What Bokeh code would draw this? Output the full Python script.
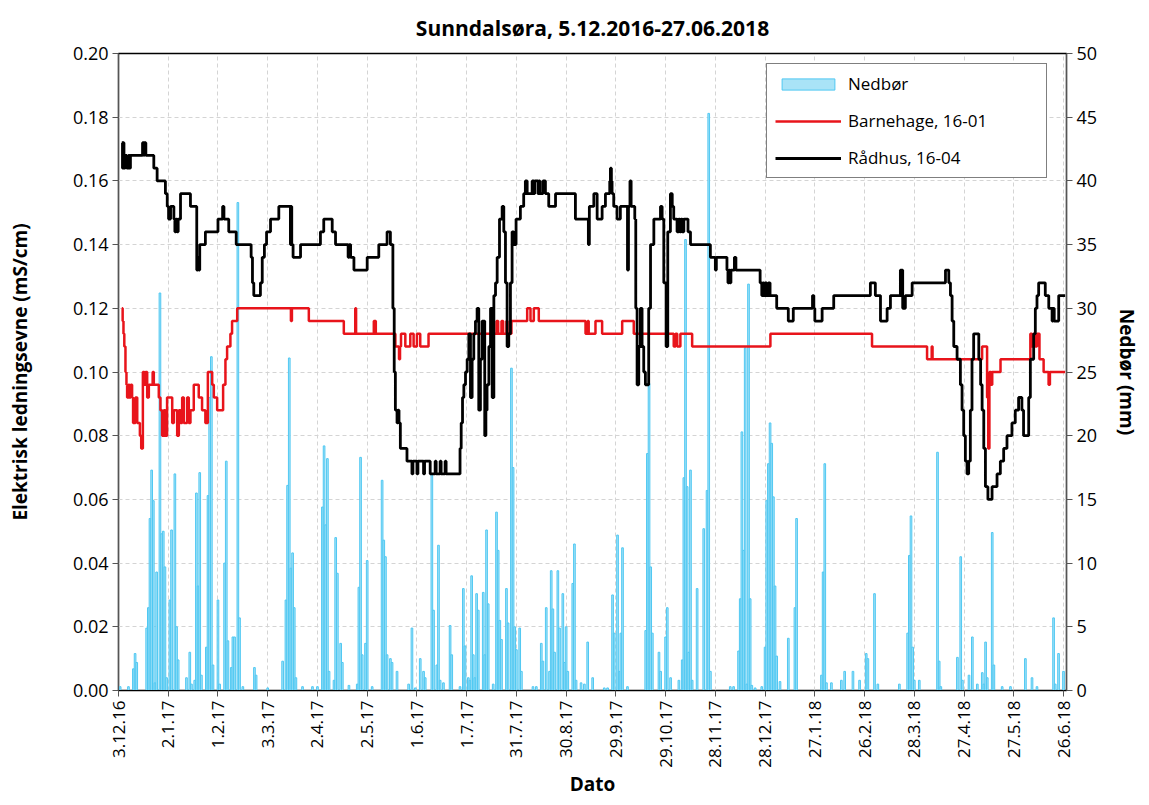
import math
from datetime import date
from bokeh.plotting import figure
from bokeh.models import (Range1d, LinearAxis, FixedTicker, Legend, LegendItem,
                          NumeralTickFormatter)
from bokeh.embed import file_html
from bokeh.resources import INLINE

# ---------------- data ----------------
START = date(2016, 12, 3)          # x is "days since 3.12.2016"

tick_labels = ["3.12.16", "2.1.17", "1.2.17", "3.3.17", "2.4.17", "2.5.17", "1.6.17",
               "1.7.17", "31.7.17", "30.8.17", "29.9.17", "29.10.17", "28.11.17",
               "28.12.17", "27.1.18", "26.2.18", "28.3.18", "27.4.18", "27.5.18", "26.6.18"]

# daily precipitation (mm)
rain_day = [1, 6, 9, 10, 11, 17, 18, 19, 20, 21, 22, 23, 25, 26, 27, 28, 29, 31, 32, 34, 35, 36,
            41, 43, 44, 46, 47, 48, 49, 50, 53, 54, 55, 56, 57, 60, 61, 64, 65, 66, 68, 69, 70,
            72, 73, 75, 82, 83, 90, 99, 101, 102, 103, 104, 105, 106, 107, 111, 117, 120, 123,
            124, 125, 126, 127, 130, 131, 132, 134, 135, 139, 144, 145, 146, 147, 149, 150, 153,
            159, 160, 161, 162, 164, 165, 168, 175, 177, 179, 182, 184, 185, 189, 190, 192, 193,
            194, 196, 200, 201, 206, 208, 209, 211, 212, 213, 214, 215, 216, 217, 220, 221, 222,
            223, 226, 228, 229, 230, 231, 234, 235, 237, 238, 239, 240, 242, 243, 250, 252, 255,
            256, 258, 260, 261, 262, 263, 265, 266, 268, 269, 270, 271, 274, 275, 276, 279, 281,
            283, 286, 293, 295, 298, 299, 301, 302, 303, 304, 307, 318, 319, 320, 321, 322, 326,
            327, 330, 331, 333, 338, 340, 341, 342, 343, 344, 345, 346, 349, 353, 355, 356, 357,
            369, 371, 374, 375, 376, 377, 378, 379, 380, 381, 382, 384, 388, 390, 391, 392, 393,
            394, 395, 396, 397, 399, 404, 408, 409, 424, 425, 426, 427, 430, 436, 438, 443, 447,
            451, 452, 456, 458, 471, 476, 477, 478, 479, 480, 483, 494, 495, 496, 506, 508, 509,
            513, 515, 518, 521, 522, 523, 524, 527, 528, 533, 538, 547, 551, 554, 564, 565, 567,
            570]
rain_mm = [0.3, 0.3, 1.7, 2.9, 2.2, 4.9, 6.5, 13.5, 17.3, 14.9, 0.6, 9.3, 31.2, 12.3, 12.5, 9.7,
           1.0, 7.1, 12.6, 17.0, 5.0, 2.4, 1.0, 3.0, 0.5, 0.8, 15.5, 8.2, 17.1, 1.2, 3.4, 15.3,
           23.0, 26.2, 2.0, 7.1, 0.5, 10.0, 18.0, 3.9, 1.8, 4.2, 4.2, 38.3, 5.7, 0.3, 1.8, 1.2,
           0.2, 2.3, 7.1, 16.1, 26.1, 9.6, 10.8, 6.5, 1.0, 0.3, 0.3, 0.3, 14.4, 19.2, 13.0, 18.2,
           1.5, 0.8, 12.0, 9.2, 3.7, 2.2, 0.4, 0.5, 8.1, 18.3, 2.8, 3.7, 10.2, 0.3, 16.5, 11.8,
           10.5, 2.8, 2.5, 2.2, 1.5, 0.5, 4.9, 0.2, 2.5, 1.5, 1.0, 17.0, 6.3, 2.0, 11.4, 0.8, 0.6,
           5.1, 2.8, 0.3, 8.0, 3.5, 1.0, 0.8, 9.0, 2.8, 1.0, 7.6, 6.3, 7.7, 2.8, 12.6, 6.8, 0.5,
           14.0, 11.0, 5.5, 4.0, 8.0, 5.3, 25.3, 17.5, 5.0, 3.2, 4.9, 1.5, 0.3, 0.3, 3.7, 2.3,
           6.5, 1.5, 9.4, 6.4, 3.0, 9.4, 4.9, 7.6, 2.2, 5.0, 1.5, 8.4, 11.5, 0.8, 0.6, 0.5, 3.8,
           1.0, 0.2, 0.2, 7.5, 4.5, 12.2, 1.5, 4.5, 11.2, 0.3, 4.7, 18.6, 24.1, 9.7, 4.5, 3.0,
           1.5, 4.2, 6.5, 1.0, 0.8, 2.4, 16.7, 35.4, 16.0, 3.0, 17.3, 0.8, 8.0, 12.7, 15.7, 45.3,
           1.5, 0.3, 0.3, 3.1, 7.2, 20.3, 11.0, 26.9, 0.5, 31.9, 7.2, 0.4, 0.2, 0.3, 3.4, 14.9,
           17.8, 21.0, 19.4, 15.2, 8.2, 2.7, 0.7, 4.1, 6.5, 13.5, 1.2, 9.3, 17.8, 0.6, 0.6, 0.8,
           1.5, 1.5, 0.8, 2.9, 2.5, 7.6, 0.5, 0.5, 4.5, 10.6, 13.7, 3.4, 0.8, 0.8, 18.7, 2.3, 0.3,
           2.6, 10.5, 0.8, 1.2, 4.2, 0.5, 1.4, 0.5, 3.8, 1.0, 12.4, 2.0, 0.3, 0.3, 2.5, 1.0, 0.3,
           5.7, 0.5, 2.9, 1.5]

# Barnehage, 16-01 (mS/cm), value holds from each day until the next
barn_day = [2, 2.5, 3, 3.5, 4.2, 4.8, 5.2, 6, 6.6, 7.4, 8.2, 8.8, 10.2, 11.3, 12.9, 13.7, 14.7,
            15.6, 16.3, 17.3, 18.3, 20.6, 21.3, 24.3, 25.3, 26.3, 27.3, 28.3, 29.3, 32.4, 33.4,
            35.4, 36.4, 37.4, 38.4, 39.4, 41.4, 42.4, 43.4, 45.4, 48.4, 50.4, 52.4, 53.9, 56.5,
            57.5, 59.5, 63.1, 64.5, 65.5, 67.5, 68.5, 71.6, 104.0, 104.6, 114.8, 135.9, 142.8,
            143.3, 154, 155.2, 167, 169.2, 169.8, 170.4, 173, 176, 178, 180, 182, 187, 228, 229,
            231, 232, 234, 234.6, 237, 246.5, 248.5, 250.5, 253.5, 281.7, 283, 283.6, 287.7,
            291.7, 303.8, 310.8, 334.9, 336, 337, 338.9, 346, 393.2, 454.5, 487.7, 490.5, 491,
            520.9, 523.9, 524.6, 525.3, 526.4, 527, 532, 550, 551, 552, 553, 554, 555.5, 558, 561,
            561.8, 571]
barn_val = [0.120, 0.116, 0.112, 0.108, 0.100, 0.096, 0.092, 0.096, 0.092, 0.096, 0.092, 0.084,
            0.092, 0.084, 0.080, 0.076, 0.100, 0.096, 0.100, 0.092, 0.096, 0.100, 0.096, 0.092,
            0.088, 0.080, 0.088, 0.080, 0.092, 0.084, 0.088, 0.080, 0.088, 0.084, 0.092, 0.084,
            0.092, 0.084, 0.088, 0.096, 0.092, 0.088, 0.084, 0.100, 0.096, 0.092, 0.088, 0.096,
            0.104, 0.108, 0.112, 0.116, 0.120, 0.116, 0.120, 0.116, 0.112, 0.120, 0.112, 0.116,
            0.112, 0.108, 0.104, 0.108, 0.112, 0.108, 0.112, 0.108, 0.112, 0.108, 0.112, 0.116,
            0.112, 0.116, 0.112, 0.116, 0.112, 0.116, 0.120, 0.116, 0.120, 0.116, 0.112, 0.116,
            0.112, 0.116, 0.112, 0.116, 0.112, 0.108, 0.112, 0.108, 0.112, 0.108, 0.112, 0.108,
            0.104, 0.108, 0.104, 0.108, 0.092, 0.076, 0.100, 0.096, 0.100, 0.104, 0.112, 0.108,
            0.112, 0.108, 0.112, 0.104, 0.100, 0.096, 0.100, 0.100]

# Rådhus, 16-04 (mS/cm)
rad_day = [2.0, 2.4, 2.8, 3.3, 4.0, 5.0, 6.0, 6.6, 7.2, 14.5, 15.2, 15.6, 16.5, 21.3, 23.3, 28.3,
           29.4, 30.2, 31.4, 33.4, 34.0, 34.6, 35.4, 36.0, 37.4, 43.4, 47.2, 47.8, 48.4, 49.0,
           52.4, 60.0, 62.8, 63.6, 66.5, 71.0, 80.0, 80.8, 81.6, 85.6, 86.7, 88.0, 89.3, 91.7,
           96.7, 103.7, 104.0, 104.5, 105.3, 109.8, 121.8, 123.8, 128.9, 130.9, 138.5, 139.2,
           140.0, 142.0, 150.0, 157.0, 162.0, 164.0, 165.5, 166.3, 167.0, 168.0, 168.6, 169.2,
           170.0, 174.0, 177.0, 177.6, 180.0, 180.6, 184.0, 184.6, 188.0, 191.0, 191.6, 194.0,
           194.6, 197.0, 197.6, 205.3, 206.0, 206.7, 207.5, 208.3, 209.3, 210.3, 211.3, 212.3,
           213.3, 214.3, 215.3, 216.3, 217.3, 218.3, 219.3, 220.9, 221.6, 222.3, 223.4, 224.4,
           225.4, 226.4, 227.4, 228.4, 229.8, 231.4, 232.4, 233.4, 234.4, 235.4, 236.4, 237.4,
           238.4, 239.8, 242.4, 244.4, 245.4, 246.5, 249.5, 250.5, 251.0, 253.0, 253.5, 254.2,
           256.0, 257.5, 259.5, 263.6, 275.6, 283.4, 284.0, 286.7, 288.7, 291.7, 293.7, 296.3,
           296.7, 297.3, 297.7, 298.7, 300.7, 302.7, 307.0, 307.6, 308.5, 309.2, 311.4, 312.0,
           312.8, 313.8, 314.8, 315.8, 316.8, 317.8, 318.8, 319.8, 320.9, 322.9, 326.9, 327.9,
           328.9, 330.3, 331.3, 332.9, 334.0, 334.9, 336.9, 337.9, 338.6, 339.3, 340.0, 341.0,
           343.5, 345.0, 357.0, 360.0, 360.6, 367.0, 367.6, 368.2, 368.8, 369.4, 371.5, 372.4,
           387.0, 388.0, 388.6, 389.4, 390.0, 391.0, 392.0, 393.0, 397.0, 404.0, 407.0, 418.6,
           419.4, 420.0, 424.4, 431.4, 453.5, 456.5, 459.6, 463.6, 465.6, 471.6, 473.0, 474.6,
           478.7, 498.8, 500.8, 501.8, 502.8, 503.8, 505.8, 507.8, 508.8, 509.8, 510.8, 511.8,
           512.8, 513.8, 514.8, 515.8, 518.9, 520.0, 520.9, 521.9, 522.9, 524.4, 526.9, 529.9,
           531.9, 533.9, 535.9, 538.9, 540.9, 542.9, 544.9, 545.9, 548.0, 549.0, 550.0, 552.0,
           553.0, 554.0, 555.0, 559.0, 561.1, 563.1, 563.8, 564.4, 566.1, 567.1, 571.0]
rad_val = [0.172, 0.164, 0.172, 0.164, 0.168, 0.164, 0.168, 0.164, 0.168, 0.172, 0.168, 0.172,
           0.168, 0.164, 0.160, 0.156, 0.152, 0.148, 0.152, 0.148, 0.144, 0.148, 0.144, 0.148,
           0.156, 0.152, 0.132, 0.136, 0.132, 0.140, 0.144, 0.148, 0.152, 0.148, 0.144, 0.140,
           0.136, 0.128, 0.124, 0.128, 0.136, 0.140, 0.144, 0.148, 0.152, 0.140, 0.152, 0.140,
           0.136, 0.140, 0.144, 0.148, 0.144, 0.140, 0.136, 0.140, 0.136, 0.132, 0.136, 0.140,
           0.144, 0.140, 0.120, 0.100, 0.088, 0.084, 0.088, 0.084, 0.076, 0.072, 0.068, 0.072,
           0.068, 0.072, 0.068, 0.072, 0.068, 0.072, 0.068, 0.072, 0.068, 0.072, 0.068, 0.068,
           0.076, 0.084, 0.092, 0.096, 0.100, 0.104, 0.112, 0.092, 0.104, 0.112, 0.116, 0.120,
           0.088, 0.104, 0.116, 0.080, 0.088, 0.096, 0.108, 0.120, 0.092, 0.124, 0.128, 0.136,
           0.148, 0.152, 0.144, 0.128, 0.108, 0.112, 0.128, 0.144, 0.140, 0.148, 0.152, 0.156,
           0.160, 0.156, 0.160, 0.156, 0.160, 0.156, 0.160, 0.156, 0.160, 0.156, 0.152, 0.156,
           0.148, 0.140, 0.152, 0.156, 0.148, 0.152, 0.156, 0.160, 0.164, 0.160, 0.156, 0.152,
           0.148, 0.152, 0.132, 0.152, 0.160, 0.152, 0.148, 0.120, 0.096, 0.108, 0.120, 0.108,
           0.100, 0.096, 0.096, 0.120, 0.140, 0.148, 0.152, 0.148, 0.128, 0.108, 0.144, 0.156,
           0.152, 0.148, 0.144, 0.148, 0.144, 0.148, 0.144, 0.148, 0.144, 0.140, 0.136, 0.132,
           0.136, 0.132, 0.128, 0.132, 0.128, 0.132, 0.136, 0.132, 0.128, 0.124, 0.128, 0.124,
           0.128, 0.124, 0.128, 0.124, 0.120, 0.116, 0.120, 0.124, 0.120, 0.116, 0.120, 0.124,
           0.128, 0.124, 0.116, 0.120, 0.124, 0.132, 0.120, 0.124, 0.128, 0.132, 0.128, 0.124,
           0.116, 0.108, 0.104, 0.096, 0.088, 0.080, 0.072, 0.068, 0.072, 0.088, 0.104, 0.112,
           0.104, 0.096, 0.088, 0.076, 0.064, 0.060, 0.064, 0.068, 0.072, 0.076, 0.080, 0.084,
           0.088, 0.092, 0.088, 0.080, 0.080, 0.092, 0.104, 0.112, 0.120, 0.124, 0.128, 0.124,
           0.120, 0.116, 0.120, 0.116, 0.116, 0.124, 0.124]


def to_day(s):
    d, m, y = s.split(".")
    return (date(2000 + int(y), int(m), int(d)) - START).days


tick_days = [to_day(s) for s in tick_labels]
ec_ticks = [round(0.02 * i, 2) for i in range(11)]
rain_ticks = [5 * i for i in range(11)]

FONT = "Open Sans"

# ---------------- figure ----------------
p = figure(width=1149, height=805, output_backend="svg", toolbar_location=None,
           x_range=Range1d(0, 571.8), y_range=Range1d(0, 0.20),
           min_border_left=118, min_border_right=83, min_border_top=53, min_border_bottom=115,
           background_fill_color="white", border_fill_color="white")
p.extra_y_ranges = {"rain": Range1d(0, 50)}

p.title.text = "Sunndalsøra, 5.12.2016-27.06.2018"
p.title.align = "center"
p.title.text_font = FONT
p.title.text_font_size = "21px"
p.title.text_font_style = "bold"
p.title.text_color = "black"
p.title.standoff = 23

p.outline_line_color = "black"
p.outline_line_width = 1.5

# grids
p.xgrid.ticker = FixedTicker(ticks=tick_days)
p.ygrid.ticker = FixedTicker(ticks=ec_ticks)
for g in (p.xgrid, p.ygrid):
    g.grid_line_color = "#D4D4D4"
    g.grid_line_dash = "4 3"
    g.grid_line_width = 1

# x axis
xa = p.xaxis[0]
xa.ticker = FixedTicker(ticks=tick_days)
xa.major_label_overrides = {float(d): s for d, s in zip(tick_days, tick_labels)}
xa.major_label_orientation = math.pi / 2
xa.axis_label = "Dato"

# left axis
ya = p.yaxis[0]
ya.ticker = FixedTicker(ticks=ec_ticks)
ya.formatter = NumeralTickFormatter(format="0.00")
ya.axis_label = "Elektrisk ledningsevne (mS/cm)"
ya.axis_label_standoff = 37

# right axis
ra = LinearAxis(y_range_name="rain", axis_label="Nedbør (mm)",
                ticker=FixedTicker(ticks=rain_ticks))
ra.axis_label_standoff = 14
p.add_layout(ra, "right")

for ax in (xa, ya, ra):
    ax.major_label_text_font = FONT
    ax.major_label_text_font_size = "18px"
    ax.major_label_text_color = "black"
    ax.axis_label_text_font = FONT
    ax.axis_label_text_font_size = "19px"
    ax.axis_label_text_font_style = "bold"
    ax.axis_label_text_color = "black"
    ax.major_tick_in = 0
    ax.major_tick_out = 6
    ax.major_tick_line_color = "#555555"
    ax.minor_tick_line_color = None
    ax.axis_line_color = "#555555"
    ax.major_label_standoff = 4
xa.axis_line_color = "black"
xa.major_label_text_font_size = "17px"
xa.axis_label_standoff = 0

# ---------------- glyphs ----------------
bars = p.vbar(x=rain_day, top=rain_mm, width=1.0, bottom=0, y_range_name="rain",
              fill_color="#A9E3F7", line_color="#4FC8F2", line_width=1)
red = p.step(x=barn_day, y=barn_val, mode="after", line_color="#E8141B", line_width=2.5)
blk = p.step(x=rad_day, y=rad_val, mode="after", line_color="black", line_width=2.8)

legend = Legend(items=[LegendItem(label="Nedbør", renderers=[bars]),
                       LegendItem(label="Barnehage, 16-01", renderers=[red]),
                       LegendItem(label="Rådhus, 16-04", renderers=[blk])],
                location=(648, 512))
legend.border_line_color = "black"
legend.border_line_width = 1.5
legend.background_fill_color = "white"
legend.background_fill_alpha = 1
legend.label_text_font = FONT
legend.label_text_font_size = "17px"
legend.label_text_color = "black"
legend.glyph_width = 66
legend.glyph_height = 14
legend.label_height = 22
legend.label_width = 190
legend.label_standoff = 7
legend.spacing = 14
legend.padding = 8
legend.margin = 0
p.add_layout(legend)

open("out.html", "w").write(file_html(p, INLINE))
